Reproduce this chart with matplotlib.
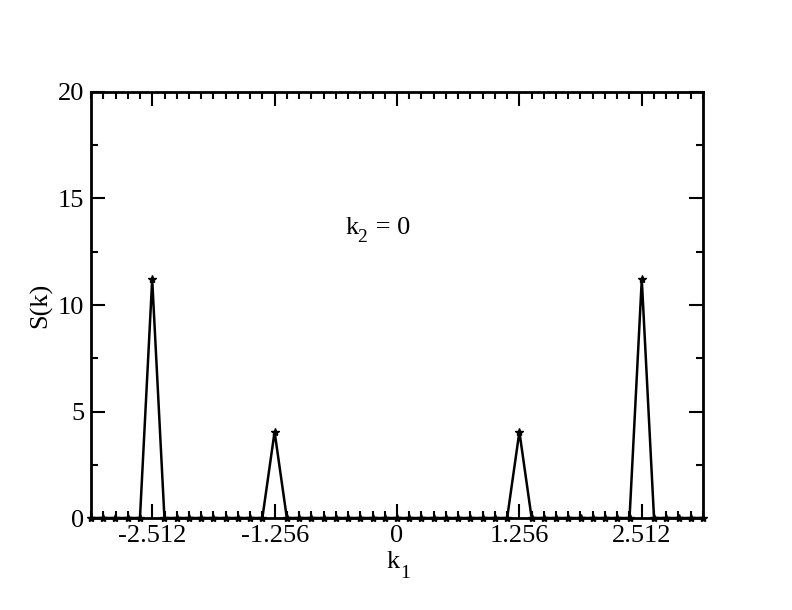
import numpy as np
import matplotlib.pyplot as plt
from matplotlib.ticker import MultipleLocator, FixedLocator
from matplotlib.transforms import offset_copy

plt.rcParams['font.family'] = ['Liberation Serif', 'DejaVu Serif']

# k1 = 2*pi*n/50, n = -25..25
n = np.arange(-25, 26)
k1 = 2 * np.pi * n / 50
S = np.zeros(len(n))
peak_n = [-20, -10, 10, 20]
peak_S = [11.2, 4.05, 4.05, 11.2]
for pn, ps in zip(peak_n, peak_S):
    S[n == pn] = ps

xticks = [-2.512, -1.256, 0, 1.256, 2.512]
xticklabels = ['-2.512', '-1.256', '0', '1.256', '2.512']

fig = plt.figure(figsize=(7.92, 6.1), dpi=100)
ax = fig.add_axes([0.1149, 0.1508, 0.7727, 0.6984])

ax.plot(k1, S, color='black', lw=1.8, marker='*', ms=6, mec='black', mfc='black',
        clip_on=False, zorder=5)

ax.set_xlim(-np.pi, np.pi)
ax.set_ylim(0, 20)
ax.xaxis.set_major_locator(FixedLocator(xticks))
ax.set_xticklabels(xticklabels)
ax.xaxis.set_minor_locator(MultipleLocator(0.1256))
ax.yaxis.set_major_locator(MultipleLocator(5))
ax.yaxis.set_minor_locator(MultipleLocator(2.5))

ax.tick_params(which='both', direction='in', top=True, right=True, width=1.5, labelsize=19)
ax.tick_params(which='major', length=10, pad=5)
ax.tick_params(which='minor', length=5)
for sp in ax.spines.values():
    sp.set_linewidth(2)

ax.set_ylabel('S(k)', fontsize=19, labelpad=4)

# x label: k with subscript 1, drawn in figure pixels
fig.text(387 / 792, 1 - 562 / 610, 'k', fontsize=19, ha='left', va='center')
fig.text(400 / 792, 1 - 574 / 610, '1', fontsize=14, ha='left', va='center')

# annotation: k_2 = 0
ax.text(-0.53, 13.6, 'k', fontsize=19, va='center', ha='left')
t = offset_copy(ax.transData, fig=fig, x=12, y=-9, units='dots')
ax.text(-0.53, 13.6, '2', fontsize=14, va='center', ha='left', transform=t)
t2 = offset_copy(ax.transData, fig=fig, x=24, y=0, units='dots')
ax.text(-0.53, 13.6, ' = 0', fontsize=19, va='center', ha='left', transform=t2)

fig.savefig('out.png', dpi=100)
